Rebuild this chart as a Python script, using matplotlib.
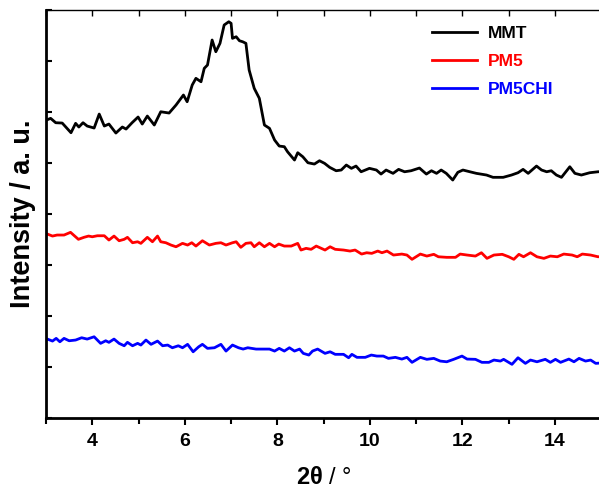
import numpy as np
import matplotlib
matplotlib.use('Agg')
import matplotlib.pyplot as plt
from matplotlib.ticker import MultipleLocator, NullFormatter

plt.rcParams['font.family'] = ['Liberation Sans', 'DejaVu Sans']
plt.rcParams['mathtext.fontset'] = 'custom'
plt.rcParams['mathtext.rm'] = 'Liberation Sans'
plt.rcParams['mathtext.bf'] = 'Liberation Sans:bold'

# XRD patterns (2theta in degrees, intensity in a.u.)
mmt_2theta = [3.01, 3.10, 3.21, 3.35, 3.54, 3.64, 3.71, 3.80, 3.89, 4.04, 4.15, 4.26, 4.36, 4.51,
              4.65, 4.73, 4.86, 4.99, 5.08, 5.19, 5.34, 5.48, 5.66, 5.81, 5.97, 6.05, 6.16, 6.24,
              6.35, 6.42, 6.49, 6.59, 6.67, 6.76, 6.85, 6.95, 7.00, 7.03, 7.11, 7.18, 7.25, 7.32,
              7.39, 7.50, 7.61, 7.72, 7.83, 7.94, 8.04, 8.15, 8.22, 8.37, 8.44, 8.55, 8.66, 8.80,
              8.91, 9.02, 9.13, 9.27, 9.38, 9.49, 9.60, 9.70, 9.81, 9.99, 10.14, 10.24, 10.35,
              10.50, 10.62, 10.75, 10.89, 11.07, 11.22, 11.33, 11.44, 11.54, 11.65, 11.79, 11.90,
              12.01, 12.16, 12.30, 12.52, 12.66, 12.88, 13.06, 13.20, 13.31, 13.42, 13.60, 13.71,
              13.82, 13.92, 14.03, 14.14, 14.32, 14.43, 14.57, 14.75, 14.93, 15.00]
mmt_int = [5840, 5874, 5788, 5782, 5592, 5776, 5704, 5788, 5723, 5684, 5958, 5723, 5762, 5586,
           5704, 5664, 5788, 5900, 5762, 5919, 5743, 6003, 5978, 6135, 6331, 6199, 6527, 6658,
           6591, 6854, 6919, 7409, 7179, 7344, 7703, 7767, 7736, 7442, 7473, 7395, 7375, 7344,
           6821, 6462, 6266, 5743, 5678, 5449, 5331, 5318, 5219, 5057, 5200, 5121, 5004, 4978,
           5043, 4992, 4914, 4847, 4861, 4959, 4894, 4939, 4827, 4894, 4861, 4782, 4861,
           4796, 4874, 4827, 4847, 4900, 4782, 4847, 4796, 4861, 4796, 4665, 4816,
           4861, 4827, 4796, 4763, 4718, 4718, 4763, 4808, 4874, 4796, 4939, 4861,
           4827, 4847, 4763, 4718, 4925, 4796, 4763, 4808, 4827, 4830]

pm5_2theta = [3.03, 3.14, 3.24, 3.39, 3.53, 3.70, 3.82, 3.92, 4.00, 4.11, 4.26, 4.36, 4.47, 4.58,
              4.69, 4.76, 4.87, 4.98, 5.05, 5.19, 5.30, 5.41, 5.48, 5.59, 5.70, 5.81, 5.95, 6.06,
              6.15, 6.24, 6.38, 6.53, 6.67, 6.78, 6.89, 7.03, 7.11, 7.21, 7.32, 7.43, 7.50, 7.61,
              7.72, 7.83, 7.94, 8.03, 8.15, 8.30, 8.44, 8.51, 8.62, 8.73, 8.84, 9.03, 9.14, 9.25,
              9.43, 9.57, 9.68, 9.82, 9.93, 10.04, 10.17, 10.26, 10.37, 10.51, 10.69, 10.80,
              10.91, 11.09, 11.23, 11.38, 11.48, 11.66, 11.85, 11.95, 12.10, 12.28, 12.41, 12.53,
              12.68, 12.86, 13.00, 13.11, 13.22, 13.32, 13.47, 13.61, 13.76, 13.90, 14.05, 14.19,
              14.37, 14.48, 14.59, 14.77, 14.93, 15.00]
pm5_int = [3606, 3567, 3587, 3587, 3640, 3503, 3542, 3567, 3553, 3573, 3573, 3489, 3567, 3475,
           3503, 3542, 3436, 3455, 3424, 3542, 3455, 3567, 3455, 3436, 3391, 3357, 3424, 3391,
           3436, 3371, 3475, 3391, 3424, 3436, 3391, 3436, 3455, 3346, 3424, 3436, 3357, 3436,
           3357, 3424, 3357, 3410, 3371, 3371, 3424, 3293, 3326, 3307, 3371, 3293, 3357, 3307,
           3293, 3273, 3293, 3214, 3240, 3228, 3273, 3240, 3273, 3195, 3214, 3195,
           3111, 3214, 3175, 3209, 3161, 3150, 3150, 3214, 3195, 3175, 3240, 3130,
           3195, 3209, 3161, 3111, 3209, 3161, 3240, 3161, 3130, 3175, 3161, 3214,
           3195, 3161, 3214, 3195, 3161, 3165]

pm5chi_2theta = [3.03, 3.14, 3.22, 3.30, 3.39, 3.50, 3.64, 3.77, 3.89, 4.04, 4.18, 4.29, 4.36,
                 4.47, 4.58, 4.69, 4.76, 4.87, 4.98, 5.05, 5.16, 5.27, 5.41, 5.52, 5.63, 5.73,
                 5.86, 5.95, 6.06, 6.18, 6.30, 6.38, 6.49, 6.64, 6.78, 6.89, 7.03, 7.16, 7.26,
                 7.36, 7.54, 7.68, 7.83, 7.94, 8.04, 8.15, 8.26, 8.37, 8.48, 8.56, 8.68, 8.76,
                 8.87, 9.03, 9.14, 9.25, 9.43, 9.54, 9.61, 9.72, 9.90, 10.03, 10.15, 10.29,
                 10.40, 10.55, 10.69, 10.80, 10.91, 11.09, 11.23, 11.38, 11.52, 11.66, 11.81,
                 11.99, 12.10, 12.28, 12.42, 12.57, 12.68, 12.82, 12.89, 13.07, 13.20, 13.36,
                 13.47, 13.61, 13.79, 13.90, 14.01, 14.12, 14.30, 14.41, 14.52, 14.66, 14.77,
                 14.88, 15.00]
pm5chi_int = [1548, 1509, 1562, 1495, 1562, 1515, 1529, 1574, 1548, 1593, 1464, 1515, 1484,
              1548, 1464, 1417, 1484, 1417, 1464, 1431, 1529, 1445, 1509, 1417, 1431, 1378,
              1417, 1378, 1445, 1299, 1397, 1445, 1366, 1378, 1445, 1313, 1431, 1378, 1352,
              1378, 1352, 1352, 1352, 1313, 1366, 1313, 1378, 1313, 1352, 1268, 1235, 1313,
              1352, 1268, 1299, 1249, 1249, 1182, 1249, 1190, 1190, 1235, 1215, 1215,
              1170, 1190, 1156, 1190, 1092, 1190, 1151, 1170, 1117, 1103, 1151,
              1215, 1156, 1151, 1092, 1092, 1137, 1117, 1151, 1053, 1182, 1072,
              1137, 1103, 1151, 1092, 1151, 1092, 1156, 1103, 1170, 1117, 1137,
              1072, 1080]

series = [
    ('MMT', mmt_2theta, mmt_int, 'black'),
    ('PM5', pm5_2theta, pm5_int, 'red'),
    ('PM5CHI', pm5chi_2theta, pm5chi_int, 'blue'),
]

fig = plt.figure(figsize=(5.99, 4.93), dpi=100)
ax = fig.add_axes([0.0768, 0.152, 0.927, 0.828])

for name, xs, ys, col in series:
    ax.plot(xs, ys, color=col, linewidth=2.0, label=name)

ax.set_xlim(3, 15)
ax.set_ylim(0, 8000)

# axes styling like Origin output
ax.spines['left'].set_linewidth(2.0)
ax.spines['bottom'].set_linewidth(2.0)
ax.spines['top'].set_linewidth(1.0)
ax.spines['right'].set_linewidth(1.0)

ax.xaxis.set_major_locator(MultipleLocator(2))
ax.xaxis.set_minor_locator(MultipleLocator(1))
ax.yaxis.set_major_locator(MultipleLocator(1000))
ax.yaxis.set_major_formatter(NullFormatter())

ax.tick_params(axis='x', which='both', direction='out', top=True, width=1.5, pad=6)
ax.tick_params(axis='x', which='major', length=5)
ax.tick_params(axis='x', which='minor', length=4)
ax.tick_params(axis='y', which='major', direction='in', length=4, width=1.5, left=True)
ax.tick_params(axis='x', which='both', labelsize=14)
for lbl in ax.get_xticklabels():
    lbl.set_fontweight('bold')

# top ticks point into the plot
for t in ax.xaxis.get_major_ticks() + ax.xaxis.get_minor_ticks():
    t.tick2line.set_marker(3)
    t.tick2line.set_markersize(4)
    t.tick2line.set_markeredgewidth(1.0)

ax.set_xlabel(r'$\mathbf{2\theta}$ / °', fontsize=17, labelpad=12)
ax.set_ylabel('Intensity / a. u.', fontsize=19.5, fontweight='bold', labelpad=4)

leg = ax.legend(loc='upper right', bbox_to_anchor=(0.941, 1.0), frameon=False,
                handlelength=2.6, handletextpad=0.6, labelspacing=0.75,
                prop={'weight': 'bold', 'size': 12.5})
for txt, (_, _, _, col) in zip(leg.get_texts(), series):
    txt.set_color(col)

fig.savefig('out.png', dpi=100)
